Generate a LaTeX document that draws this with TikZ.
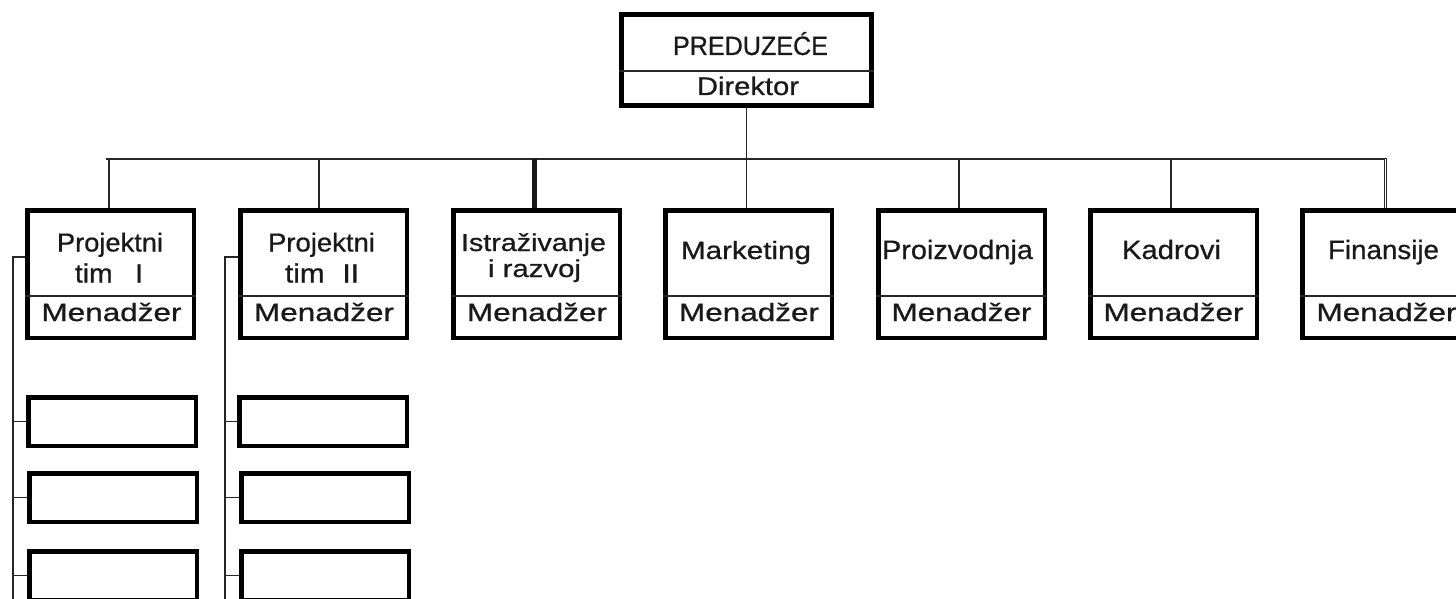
\documentclass[tikz,border=0pt]{standalone}
\usepackage{fontspec}
\setmainfont{Liberation Sans}
\newfontfamily\lbfont{Liberation Sans}[FakeBold=0.7]
\usepackage{graphicx}
\newcommand\fitw[3]{\resizebox{#1pt}{\height}{\lbfont\fontsize{#2pt}{#2pt}\selectfont #3}}
\begin{document}
\begin{tikzpicture}[x=1pt,y=-1pt,
  topbox/.style={draw, line width=5pt, minimum width=250pt, minimum height=91pt, inner sep=0pt},
  unitbox/.style={draw, line width=4.5pt, minimum width=166.5pt, minimum height=127.5pt, inner sep=0pt},
  subbox/.style={draw, line width=4.5pt, minimum width=167.5pt, minimum height=48.5pt, inner sep=0pt},
  conn/.style={draw, line width=1.1pt, black!85},
  thickconn/.style={draw, line width=5pt, black!90},
  dblconn/.style={draw, line width=0.9pt, double, double distance=1.2pt, black!85},
  divline/.style={draw, line width=1.1pt, black!85},
  lbl/.style={anchor=base, inner sep=0pt, text=black!90}]
\clip (0,0) rectangle (1456,599);

% boxes
\node[topbox] (top) at (746.5,60) {};
\node[unitbox] (b1) at (110.5,274) {};
\node[unitbox] (b2) at (323.5,274) {};
\node[unitbox] (b3) at (536.5,274) {};
\node[unitbox] (b4) at (748.5,274) {};
\node[unitbox] (b5) at (961.5,274) {};
\node[unitbox] (b6) at (1173.5,274) {};
\node[unitbox] (b7) at (1385.5,274) {};

\node[subbox] (s11) at (112,421.5) {};
\node[subbox] (s12) at (113,497.5) {};
\node[subbox] (s13) at (113,575.5) {};
\node[subbox] (s21) at (323,421.5) {};
\node[subbox] (s22) at (325,497.5) {};
\node[subbox] (s23) at (325,575.5) {};

% dividers
\draw[divline] (top.west |- 0,71) -- (top.east |- 0,71);
\foreach \b in {b1,b2,b3,b4,b5,b6,b7}
  \draw[divline] (\b.west |- 0,296) -- (\b.east |- 0,296);

% bus
\coordinate (bus) at (0,159);
\draw[conn] ([xshift=-5pt]b1.north |- bus) -- ([xshift=1pt]b7.north |- bus);
\draw[conn] (top.south) -- (top.south |- b4.north);
\draw[conn] ([xshift=-1.5pt]b1.north |- bus) -- ([xshift=-1.5pt]b1.north);
\draw[conn] ([xshift=-4.5pt]b2.north |- bus) -- ([xshift=-4.5pt]b2.north);
\draw[thickconn] ([xshift=-2.5pt]b3.north |- bus) -- ([xshift=-2.5pt]b3.north);
\draw[conn] ([xshift=-2.5pt]b5.north |- bus) -- ([xshift=-2.5pt]b5.north);
\draw[conn] ([xshift=-2.5pt]b6.north |- bus) -- ([xshift=-2.5pt]b6.north);
\draw[dblconn] (b7.north |- bus) -- (b7.north);

% left side connectors
\coordinate (v1top) at (13,257);
\coordinate (v1bot) at (13,610);
\coordinate (v2top) at (225,257);
\coordinate (v2bot) at (225,610);
\draw[conn] (b1.west |- v1top) -- (v1top) -- (v1bot);
\draw[conn] (b2.west |- v2top) -- (v2top) -- (v2bot);
\foreach \s in {s11,s12,s13}
  \draw[conn] (\s.west) -- (\s.west -| v1top);
\foreach \s in {s21,s22,s23}
  \draw[conn] (\s.west) -- (\s.west -| v2top);

% labels
\node[lbl] (t0a) at (750.5,55) {\fitw{155}{26.5}{PREDUZEĆE}};
\node[lbl] (t0b) at (748,95) {\fitw{102}{25.5}{Direktor}};

\node[lbl] (t1a) at (110,251.5) {\fitw{106}{26}{Projektni}};
\node[lbl] (t1b) at (109,282.5) {\fitw{68}{26.5}{tim\hspace{0.8em}I}};
\node[lbl] (t2a) at (321.5,251.5) {\fitw{107}{26}{Projektni}};
\node[lbl] (t2b) at (322,282.5) {\fitw{74}{26.5}{tim\hspace{0.6em}II}};
\node[lbl] (t3a) at (533.5,251) {\fitw{145}{24.5}{Istraživanje}};
\node[lbl] (t3b) at (534.5,277) {\fitw{93}{24.5}{i razvoj}};
\node[lbl] (t4a) at (746,259) {\fitw{130}{25}{Marketing}};
\node[lbl] (t5a) at (957.5,259) {\fitw{151}{26.5}{Proizvodnja}};
\node[lbl] (t6a) at (1171.5,259) {\fitw{99}{26.5}{Kadrovi}};
\node[lbl] (t7a) at (1383.5,259) {\fitw{111}{26.5}{Finansije}};

\node[lbl] (m1) at (111.5,321) {\fitw{140}{25}{Menadžer}};
\node[lbl] (m2) at (324,321) {\fitw{140}{25}{Menadžer}};
\node[lbl] (m3) at (537,321) {\fitw{140}{25}{Menadžer}};
\node[lbl] (m4) at (749,321) {\fitw{140}{25}{Menadžer}};
\node[lbl] (m5) at (961.5,321) {\fitw{140}{25}{Menadžer}};
\node[lbl] (m6) at (1173.5,321) {\fitw{140}{25}{Menadžer}};
\node[lbl] (m7) at (1386.5,321) {\fitw{140}{25}{Menadžer}};
\end{tikzpicture}
\end{document}
